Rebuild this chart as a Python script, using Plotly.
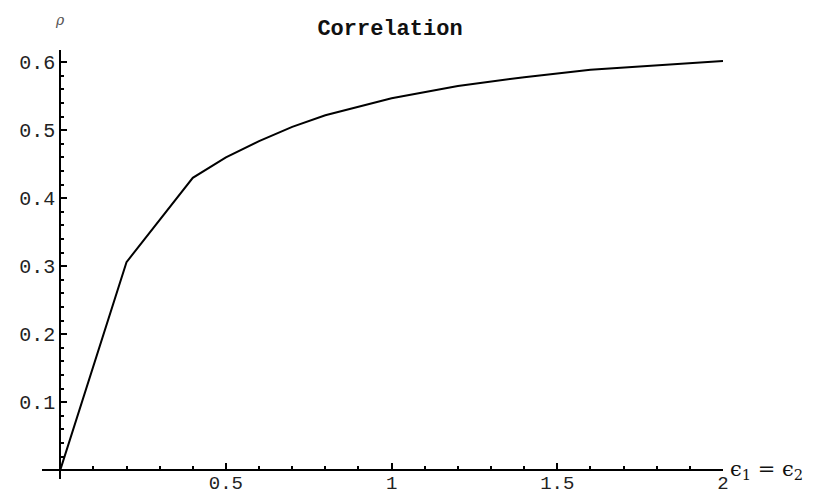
import plotly.graph_objects as go

# data
eps = [0.0, 0.2, 0.4, 0.5, 0.6, 0.7, 0.8, 1.0, 1.2, 1.4, 1.6, 1.8, 2.0]
rho = [0.0, 0.306, 0.430, 0.460, 0.484, 0.505, 0.522, 0.547, 0.565, 0.578, 0.589, 0.596, 0.602]

x_ticks = [0.5, 1, 1.5, 2]
x_labels = ["0.5", "1", "1.5", "2"]
y_ticks = [0.1, 0.2, 0.3, 0.4, 0.5, 0.6]
y_labels = ["0.1", "0.2", "0.3", "0.4", "0.5", "0.6"]

xr = [-0.055, 2.0]
yr = [-0.013, 0.618]

fig = go.Figure()
fig.add_trace(go.Scatter(x=eps, y=rho, mode="lines",
                         line=dict(color="black", width=2), showlegend=False))

mono = "Liberation Mono"
fig.update_layout(
    width=823, height=494,
    margin=dict(l=42, r=100, t=50, b=15, autoexpand=False),
    paper_bgcolor="white", plot_bgcolor="white",
    title=dict(text="<b>Correlation</b>", x=390 / 823, xanchor="center",
               y=1 - 27 / 494, yanchor="middle",
               font=dict(family=mono, size=22, color="#111")),
    xaxis=dict(range=xr, anchor="free", position=(0 - yr[0]) / (yr[1] - yr[0]),
               automargin=False, ticklabelstandoff=-5,
               showgrid=False, zeroline=False, showline=True, linecolor="black", linewidth=2,
               tickvals=x_ticks, ticktext=x_labels, ticks="inside", ticklen=6,
               tickwidth=1.5, tickcolor="black",
               minor=dict(dtick=0.1, tick0=0, ticks="inside", ticklen=3, tickwidth=1.5, tickcolor="black"),
               tickfont=dict(family=mono, size=19, color="#222")),
    yaxis=dict(range=yr, anchor="free", position=(0 - xr[0]) / (xr[1] - xr[0]),
               automargin=False,
               showgrid=False, zeroline=False, showline=True, linecolor="black", linewidth=2,
               tickvals=y_ticks, ticktext=y_labels, ticks="inside", ticklen=6,
               tickwidth=1.5, tickcolor="black",
               minor=dict(dtick=0.02, tick0=0, ticks="inside", ticklen=3, tickwidth=1.5, tickcolor="black"),
               tickfont=dict(family=mono, size=20, color="#222")),
)

fig.add_annotation(text="<i>ρ</i>", xref="paper", yref="paper", x=0.0, y=1, xshift=18, yshift=30,
                   showarrow=False, font=dict(family="DejaVu Serif", size=14, color="#555"),
                   xanchor="center", yanchor="middle")
fig.add_annotation(text="ϵ<sub>1</sub> = ϵ<sub>2</sub>", xref="paper", yref="y", x=1, y=0,
                   xshift=5, showarrow=False, xanchor="left", yanchor="middle",
                   font=dict(family="DejaVu Serif", size=21, color="#111"))

fig.write_html("out.html")
